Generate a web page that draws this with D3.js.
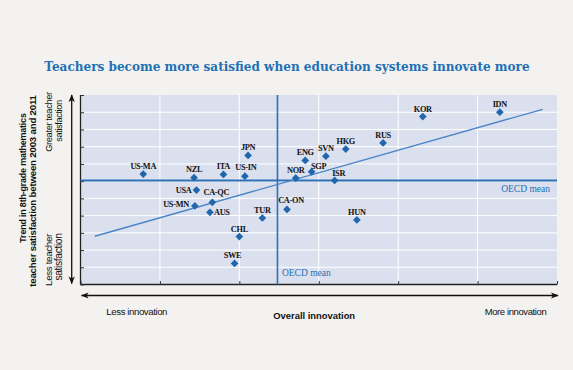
<!DOCTYPE html>
<html><head><meta charset="utf-8">
<script src="https://cdn.jsdelivr.net/npm/d3@7"></script>
<style>
body{margin:0;background:#f3f2f0;}
svg{display:block}
</style></head><body>
<svg id="c" width="573" height="370"></svg>
<script>
// ---- data ----
const countries = ["US-MA","NZL","ITA","US-IN","JPN","USA","CA-QC","US-MN","AUS","TUR","CHL","SWE","CA-ON","NOR","SGP","ENG","SVN","HKG","ISR","RUS","KOR","IDN","HUN"];
const innovation = [0.79,1.43,1.80,2.07,2.11,1.46,1.66,1.44,1.63,2.29,2.00,1.94,2.60,2.71,2.91,2.83,3.09,3.34,3.20,3.81,4.31,5.28,3.48];
const satisfaction = [6.41,6.20,6.39,6.29,7.49,5.48,4.77,4.56,4.19,3.86,2.78,1.22,4.36,6.18,6.54,7.20,7.45,7.86,6.04,8.22,9.75,10.00,3.75];
const meanInnovation = 2.48;
const meanSatisfaction = 6.04;
const trendX = [0.18, 5.82];
const trendY = [2.80, 10.17];
const xTicks = [0,1,2,3,4,5,6];
const yTicks = [0,1,2,3,4,5,6,7,8,9,10,11];
const title = "Teachers become more satisfied when education systems innovate more";
const yTitle = ["Trend in 8th-grade mathematics","teacher satisfaction between 2003 and 2011"];
const xTitle = "Overall innovation";

// ---- label placement (style) ----
const labelPos = {
  "USA":{dx:-5,dy:3,a:"end"}, "US-MN":{dx:-6,dy:1,a:"end"}, "AUS":{dx:4,dy:3,a:"start"},
  "SGP":{dx:7,dy:-3,a:"middle"}, "CA-QC":{dx:4,dy:-7.5,a:"middle"}, "ISR":{dx:4,dy:-4.5,a:"middle"},
  "CA-ON":{dx:4,dy:-6,a:"middle"}, "SWE":{dx:-2,dy:-5.5,a:"middle"}, "US-IN":{dx:1,dy:-6,a:"middle"},
  "NZL":{dx:0,dy:-6,a:"middle"}
};

const svg = d3.select("#c");
const L=80.5, R=557, T=95, B=284.5;
const x = d3.scaleLinear().domain([0,6]).range([L,R]);
const y = d3.scaleLinear().domain([0,11]).range([B,T]);

const blue = "#1f66ad";

// fit helper: set font-size so the text has the wanted width
function fit(sel, w){
  const n = sel.node();
  const fs = parseFloat(sel.attr("font-size"));
  const len = n.getComputedTextLength();
  if(len>0) sel.attr("font-size", (fs*w/len).toFixed(2));
  return sel;
}

// title
fit(svg.append("text").attr("x",287).attr("y",71).attr("text-anchor","middle")
  .attr("font-family","DejaVu Serif").attr("font-size",13.5).attr("font-weight","bold")
  .attr("fill","#2270b4").text(title), 486);

// plot background
svg.append("rect").attr("x",L).attr("y",T).attr("width",R-L).attr("height",B-T).attr("fill","#dbe0ef");

// grid
svg.append("g").selectAll("line").data(xTicks.slice(1,-1)).join("line")
  .attr("x1",d=>x(d)).attr("x2",d=>x(d)).attr("y1",T).attr("y2",B)
  .attr("stroke","#ffffff").attr("stroke-width",1);
svg.append("g").selectAll("line").data(yTicks.slice(1,-1)).join("line")
  .attr("x1",L).attr("x2",R).attr("y1",d=>y(d)).attr("y2",d=>y(d))
  .attr("stroke","#ffffff").attr("stroke-width",1);

// axes
const xAxis = d3.axisBottom(x).tickValues(xTicks).tickSize(-3.5).tickFormat("");
const gx = svg.append("g").attr("transform",`translate(0,${B})`).call(xAxis);
gx.select(".domain").attr("stroke","#222").attr("stroke-width",1.3).attr("d",`M${L},0H${R}`);
gx.selectAll(".tick line").attr("stroke","#333");
const yAxis = d3.axisLeft(y).tickValues(yTicks).tickSize(-3.5).tickFormat("");
const gy = svg.append("g").attr("transform",`translate(${L},0)`).call(yAxis);
gy.select(".domain").attr("stroke","#222").attr("stroke-width",1.3).attr("d",`M0,${T}V${B}`);
gy.selectAll(".tick line").attr("stroke","#333");

// mean lines
svg.append("line").attr("x1",L).attr("x2",R).attr("y1",y(meanSatisfaction)).attr("y2",y(meanSatisfaction))
  .attr("stroke","#2d70b6").attr("stroke-width",2);
svg.append("line").attr("x1",x(meanInnovation)).attr("x2",x(meanInnovation)).attr("y1",T).attr("y2",B)
  .attr("stroke","#2d70b6").attr("stroke-width",1.6);

svg.append("text").attr("x",550).attr("y",y(meanSatisfaction)+12).attr("text-anchor","end")
  .attr("font-family","Liberation Serif").attr("font-size",9.5).attr("fill","#2270b4").text("OECD mean");
svg.append("text").attr("x",x(meanInnovation)+4.5).attr("y",B-8.5)
  .attr("font-family","Liberation Serif").attr("font-size",9.5).attr("fill","#2270b4").text("OECD mean");

// trend line
svg.append("line").attr("x1",x(trendX[0])).attr("y1",y(trendY[0])).attr("x2",x(trendX[1])).attr("y2",y(trendY[1]))
  .attr("stroke","#4a84c6").attr("stroke-width",1.4);

// points
const pts = countries.map((c,i)=>({c, xv:innovation[i], yv:satisfaction[i]}));
svg.append("g").selectAll("path").data(pts).join("path")
  .attr("d",d3.symbol(d3.symbolDiamond2,38))
  .attr("transform",d=>`translate(${x(d.xv)},${y(d.yv)})`)
  .attr("fill",blue);

svg.append("g").selectAll("text").data(pts).join("text")
  .attr("x",d=>x(d.xv)+(labelPos[d.c]?labelPos[d.c].dx:0))
  .attr("y",d=>y(d.yv)+(labelPos[d.c]?labelPos[d.c].dy:-5))
  .attr("text-anchor",d=>labelPos[d.c]?labelPos[d.c].a:"middle")
  .attr("font-family","Liberation Serif").attr("font-weight","bold").attr("font-size",8.3)
  .attr("letter-spacing",-0.3).attr("fill","#111").text(d=>d.c);

// arrows
const defs = svg.append("defs");
defs.append("marker").attr("id","ah").attr("viewBox","0 0 10 10").attr("refX",9).attr("refY",5)
  .attr("markerWidth",6).attr("markerHeight",6).attr("orient","auto-start-reverse")
  .append("path").attr("d","M0,1 L10,5 L0,9 L2.5,5 Z").attr("fill","#111");
svg.append("line").attr("x1",L+1).attr("x2",R+1).attr("y1",295.5).attr("y2",295.5)
  .attr("stroke","#111").attr("stroke-width",1.3)
  .attr("marker-start","url(#ah)").attr("marker-end","url(#ah)");
svg.append("line").attr("x1",71.7).attr("x2",71.7).attr("y1",T).attr("y2",283.5)
  .attr("stroke","#111").attr("stroke-width",1.3)
  .attr("marker-start","url(#ah)").attr("marker-end","url(#ah)");

// x labels
fit(svg.append("text").attr("x",136.7).attr("y",315).attr("text-anchor","middle")
  .attr("font-family","Liberation Sans").attr("font-size",10).attr("fill","#111")
  .attr("letter-spacing",-0.4).text("Less innovation"),61);
fit(svg.append("text").attr("x",515.5).attr("y",315).attr("text-anchor","middle")
  .attr("font-family","Liberation Sans").attr("font-size",10).attr("fill","#111")
  .attr("letter-spacing",-0.4).text("More innovation"),62);
fit(svg.append("text").attr("x",314.2).attr("y",319).attr("text-anchor","middle")
  .attr("font-family","Liberation Sans").attr("font-size",10).attr("font-weight","bold").attr("fill","#111")
  .text(xTitle),82);

// y labels (rotated)
function vtext(cx, cy, str, len, bold){
  fit(svg.append("text").attr("transform",`translate(${cx},${cy}) rotate(-90)`)
    .attr("text-anchor","middle").attr("font-family","Liberation Sans").attr("font-size",10)
    .attr("font-weight",bold?"bold":"normal").attr("fill","#111")
    .attr("letter-spacing",bold?-0.2:-0.4).text(str), len);
}
vtext(25.5,178,yTitle[0],130,true);
vtext(36,191,yTitle[1],192,true);
vtext(51.5,122,"Greater teacher",60,false);
vtext(61.5,121,"satisfaction",42,false);
vtext(51.5,260,"Less teacher",52,false);
vtext(61.5,257,"satisfaction",47,false);
</script>
</body></html>
